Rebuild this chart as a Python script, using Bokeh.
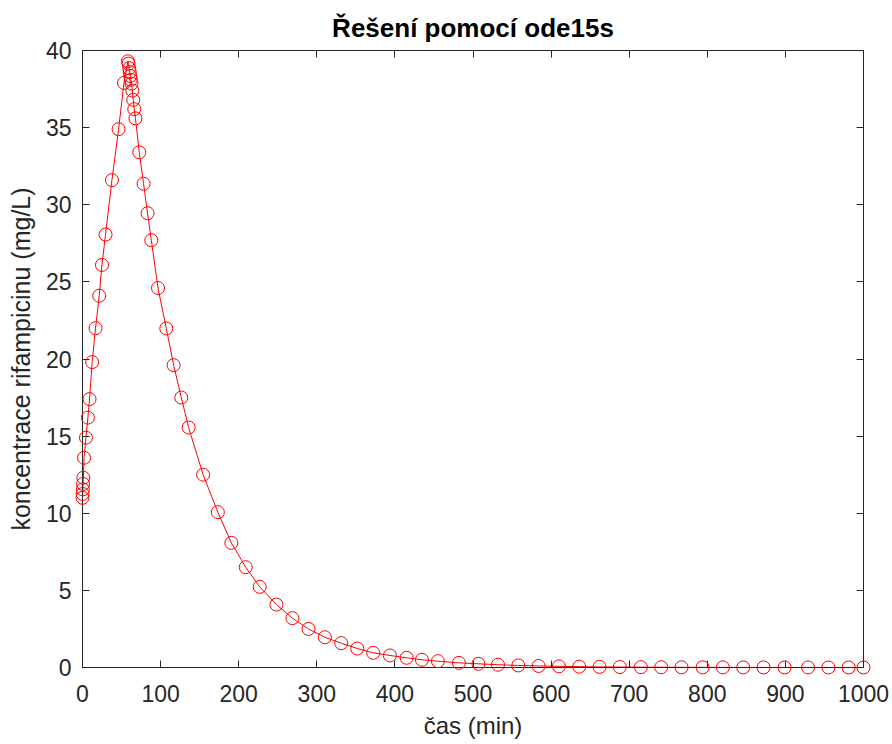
from bokeh.plotting import figure
from bokeh.models import LinearAxis, FixedTicker, Range1d, ColumnDataSource
from bokeh.embed import file_html
from bokeh.resources import INLINE

t_min = [0, 0.2, 0.5, 0.8, 1.1, 2.0, 4.4, 6.9, 9.0, 12.4, 16.7, 21.4, 24.9, 29.5,
         37.7, 46.2, 53.1, 58.2, 59.0, 59.8, 60.5, 61.2, 62.0, 62.8, 63.8, 65.0,
         66.3, 67.8, 72.7, 78.2, 83.3, 88.1, 96.7, 107.3, 116.7, 126.5, 135.9,
         154.4, 173.3, 190.6, 209.0, 226.9, 248.3, 268.8, 289.4, 310.3, 331.3,
         351.8, 372.3, 393.6, 415.0, 434.6, 455.1, 482, 507, 532, 558, 584, 610,
         636, 662, 688, 715, 741, 767, 794, 820, 846, 872, 899, 929, 955, 981, 1000]
conc = [11.0, 11.25, 11.55, 11.9, 12.3, 13.6, 14.9, 16.2, 17.4, 19.8, 22.0, 24.1,
        26.1, 28.07, 31.6, 34.9, 37.9, 39.3, 39.15, 38.85, 38.6, 38.35, 38.1,
        37.85, 37.4, 36.8, 36.2, 35.6, 33.4, 31.36, 29.45, 27.7, 24.6, 21.98,
        19.6, 17.5, 15.56, 12.5, 10.07, 8.08, 6.5, 5.23, 4.08, 3.2, 2.5, 1.96,
        1.58, 1.23, 0.95, 0.78, 0.63, 0.5, 0.41, 0.3, 0.24, 0.18, 0.135, 0.1,
        0.075, 0.055, 0.04, 0.03, 0.022, 0.016, 0.012, 0.009, 0.007, 0.005,
        0.004, 0.003, 0.002, 0.0015, 0.001, 0.0008]
x_ticks = [0, 100, 200, 300, 400, 500, 600, 700, 800, 900, 1000]
y_ticks = [0, 5, 10, 15, 20, 25, 30, 35, 40]

title_text = "Řešení pomocí ode15s"
x_label = "čas (min)"
y_label = "koncentrace rifampicinu (mg/L)"

FONT = "Liberation Sans"
AX = "#262626"

p = figure(width=892, height=744, output_backend="svg", toolbar_location=None,
           x_range=Range1d(0, 1000), y_range=Range1d(0, 40),
           min_border_left=82, min_border_right=29, min_border_top=50,
           min_border_bottom=77, title=title_text)
p.title.align = "center"
p.title.text_font = FONT
p.title.text_font_size = "26px"
p.title.text_font_style = "bold"
p.title.text_color = "#000000"
p.title.standoff = 15
p.grid.visible = False
p.outline_line_color = AX
p.background_fill_color = "white"
p.border_fill_color = "white"

src = ColumnDataSource(dict(t=t_min, c=conc))
p.line("t", "c", source=src, line_color="#ff0000", line_width=1)
p.scatter("t", "c", source=src, marker="circle", size=13, fill_color=None,
          line_color="#ff0000", line_width=1, level="overlay")


def style(ax, ticks, show_labels=True):
    ax.ticker = FixedTicker(ticks=ticks)
    ax.axis_line_color = AX
    ax.major_tick_line_color = AX
    ax.major_tick_in = 7
    ax.major_tick_out = 0
    ax.minor_tick_line_color = None
    ax.major_label_text_font = FONT
    ax.major_label_text_color = AX
    ax.major_label_text_font_size = "23px"
    if not show_labels:
        ax.major_label_overrides = {t: "" for t in ticks}
        ax.major_label_standoff = 0


style(p.xaxis[0], x_ticks)
style(p.yaxis[0], y_ticks)
p.xaxis[0].major_label_standoff = 17
p.yaxis[0].major_label_standoff = 11
p.xaxis[0].axis_label = x_label
p.yaxis[0].axis_label = y_label
for ax in (p.xaxis[0], p.yaxis[0]):
    ax.axis_label_text_font = FONT
    ax.axis_label_text_font_style = "normal"
    ax.axis_label_text_color = AX
p.xaxis[0].axis_label_text_font_size = "24px"
p.yaxis[0].axis_label_text_font_size = "25px"
p.xaxis[0].axis_label_standoff = 7
p.yaxis[0].axis_label_standoff = 8

top = LinearAxis()
style(top, x_ticks, False)
p.add_layout(top, "above")
right = LinearAxis()
style(right, y_ticks, False)
p.add_layout(right, "right")

open("out.html", "w").write(file_html(p, INLINE))
